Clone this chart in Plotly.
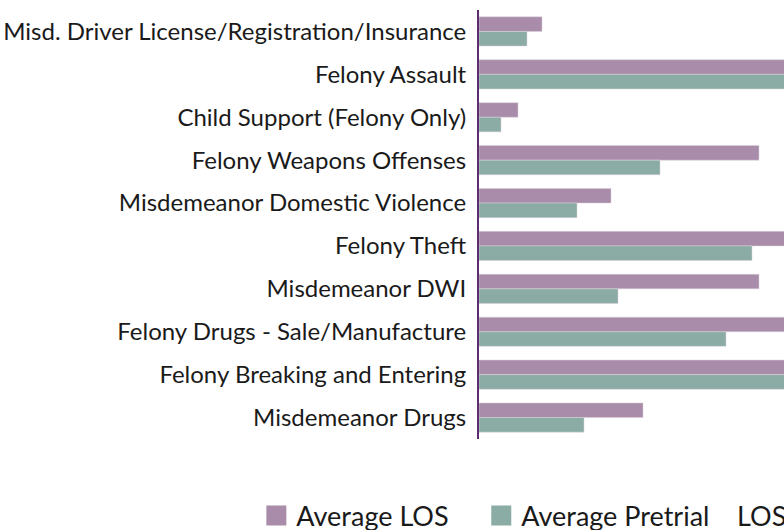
import plotly.graph_objects as go

categories = [
    "Misd. Driver License/Registration/Insurance",
    "Felony Assault",
    "Child Support (Felony Only)",
    "Felony Weapons Offenses",
    "Misdemeanor Domestic Violence",
    "Felony Theft",
    "Misdemeanor DWI",
    "Felony Drugs - Sale/Manufacture",
    "Felony Breaking and Entering",
    "Misdemeanor Drugs",
]
avg_los = [63, 340, 39, 280, 132, 330, 280, 345, 360, 164]
avg_pretrial_los = [48, 320, 22, 181, 98, 273, 139, 247, 315, 105]

series_names = ["Average LOS", "Average Pretrial   LOS"]
legend_labels = ["Average LOS" + "\u00a0" * 4, "Average Pretrial\u00a0\u00a0\u00a0 LOS"]
colors = ["#a88ca9", "#8aaca4"]

fig = go.Figure()
for name, vals, col in zip(series_names, [avg_los, avg_pretrial_los], colors):
    fig.add_trace(go.Bar(
        y=categories, x=vals, orientation="h", name=name,
        marker=dict(color=col, line=dict(color="#ddd3dd", width=0.5)),
        showlegend=False,
    ))
for name, col in zip(legend_labels, colors):
    fig.add_trace(go.Scatter(
        x=[None], y=[None], mode="markers", name=name,
        marker=dict(symbol="square", size=16, color=col, line=dict(color=col, width=4)),
    ))

fig.update_layout(
    width=784, height=530,
    margin=dict(l=479, r=0, t=10, b=91, autoexpand=False),
    template="none",
    paper_bgcolor="white", plot_bgcolor="white",
    barmode="group", bargap=0.32, bargroupgap=0,
    font=dict(family="Lato", size=24, color="#1a1a1a"),
    showlegend=True,
    legend=dict(
        orientation="h", x=-0.730, xanchor="left", y=-0.1224, yanchor="top",
        font=dict(size=27, color="#1a1a1a"),
        itemsizing="trace",
    ),
    xaxis=dict(range=[0, 305], showgrid=False, zeroline=False, showticklabels=False,
               showline=False, automargin=False),
    yaxis=dict(autorange="reversed", showgrid=False, zeroline=False,
               showline=True, linecolor="#5c2d6e", linewidth=2,
               ticks="", ticklabelstandoff=6, automargin=False,
               tickfont=dict(size=24, color="#1a1a1a")),
)

fig.write_html(
    "out.html",
    config={"displayModeBar": False},
    post_script="document.body.style.margin='0';document.body.style.overflow='hidden';",
)
